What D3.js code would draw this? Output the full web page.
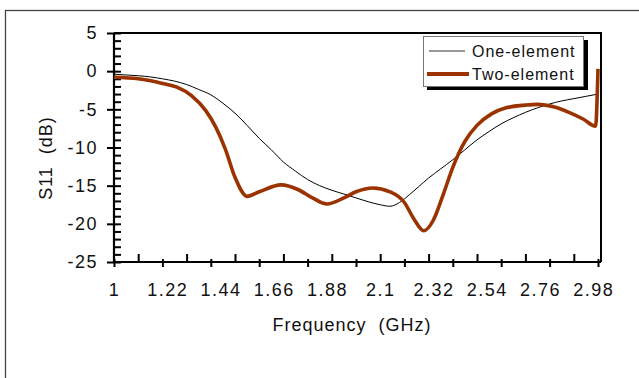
<!DOCTYPE html>
<html>
<head>
<meta charset="utf-8">
<script src="https://cdn.jsdelivr.net/npm/d3@7"></script>
<style>
    body { margin: 0; background: #fff; }
    text { font-family: "Liberation Sans", Arial, sans-serif; fill: #111; }
</style>
</head>
<body>
<svg id="chart" width="639" height="378"></svg>
<script>
// One-element antenna, S11 in dB
var freqOne = [1.00, 1.05, 1.10, 1.15, 1.20, 1.25, 1.30, 1.35, 1.40, 1.45, 1.50, 1.55, 1.60, 1.65, 1.70,
               1.75, 1.80, 1.85, 1.90, 1.95, 2.00, 2.05, 2.10, 2.14, 2.18, 2.22, 2.26, 2.30, 2.35, 2.40, 2.45,
               2.50, 2.55, 2.60, 2.65, 2.70, 2.75, 2.80, 2.85, 2.90, 2.95, 3.00];
var s11One = [-0.4, -0.5, -0.6, -0.75, -1.0, -1.3, -1.75, -2.4, -3.1, -4.2, -5.5, -7.1, -8.8, -10.3, -11.9,
              -13.1, -14.2, -15.0, -15.6, -16.1, -16.6, -17.1, -17.5, -17.7, -17.2, -16.2, -15.1, -14.0, -12.8, -11.6, -10.3,
              -9.0, -7.9, -6.9, -6.1, -5.4, -4.8, -4.3, -3.9, -3.6, -3.3, -3.0];

// Two-element antenna
var freqTwo = [1.00, 1.10, 1.20, 1.26, 1.32, 1.38, 1.42, 1.46, 1.50, 1.55, 1.60, 1.69, 1.76, 1.82, 1.88,
               1.95, 2.00, 2.07, 2.14, 2.20, 2.24, 2.28, 2.32, 2.36, 2.40, 2.45, 2.50, 2.56, 2.62, 2.70,
               2.75, 2.82, 2.88, 2.94, 2.99, 3.00];
var s11Two = [-0.8, -1.0, -1.6, -2.1, -3.2, -5.2, -7.3, -10.2, -13.9, -16.4, -15.8, -14.9, -15.5, -16.6, -17.4,
              -16.6, -15.8, -15.3, -15.8, -17.2, -19.4, -20.9, -19.5, -16.2, -12.6, -9.2, -7.1, -5.6, -4.8, -4.45,
              -4.35, -4.7, -5.4, -6.3, -7.2, 0.3];

var xLabels = [1, 1.22, 1.44, 1.66, 1.88, 2.1, 2.32, 2.54, 2.76, 2.98];
var yLabels = [5, 0, -5, -10, -15, -20, -25];
var seriesNames = ["One-element", "Two-element"];

var svg = d3.select("#chart");
var m = {left: 114, right: 598, top: 33, bottom: 262};
var brown = "#9a3300";

var x = d3.scaleLinear().domain([1, 3]).range([m.left, m.right]);
var y = d3.scaleLinear().domain([-25, 5]).range([m.bottom, m.top]);

// outer frame
svg.append("rect")
    .attr("x", 5.5).attr("y", 10.5)
    .attr("width", 700).attr("height", 400)
    .attr("fill", "none")
    .attr("stroke", "#444")
    .attr("stroke-width", 1.3);

// plot box (top + right)
svg.append("path")
    .attr("d", "M" + m.left + "," + m.top + "H601V" + m.bottom)
    .attr("fill", "none")
    .attr("stroke", "#000")
    .attr("stroke-width", 2);

// y axis: minor ticks inward, major ticks crossing
var yMinor = d3.range(-25, 6, 1);
svg.append("g")
    .attr("class", "axis")
    .attr("transform", "translate(" + m.left + ",0)")
    .call(d3.axisLeft(y).tickValues(yMinor).tickSize(-7).tickFormat(""));

svg.append("g")
    .attr("class", "axis ylab")
    .attr("transform", "translate(" + m.left + ",0)")
    .call(d3.axisLeft(y).tickValues(yLabels).tickSize(7).tickPadding(9)
        .tickFormat(function(d) { return String(d); }));

// x axis
var xMinor = d3.range(1.1, 3, 0.2);
var xMajor = d3.range(0, 11).map(function(i) { return 1 + i * 0.2; });

svg.append("g")
    .attr("class", "axis")
    .attr("transform", "translate(0," + m.bottom + ")")
    .call(d3.axisBottom(x).tickValues(xMinor).tickSize(-8).tickFormat(""));

svg.append("g")
    .attr("class", "axis")
    .attr("transform", "translate(0," + m.bottom + ")")
    .call(d3.axisBottom(x).tickValues(xMajor).tickSize(5).tickFormat(""));

svg.append("g")
    .attr("class", "axis")
    .attr("transform", "translate(0," + m.bottom + ")")
    .call(d3.axisBottom(x).tickValues(xMajor).tickSize(-3).tickFormat(""));

svg.append("g")
    .attr("class", "axis xlab")
    .attr("transform", "translate(0," + m.bottom + ")")
    .call(d3.axisBottom(x).tickValues(xLabels).tickSize(0).tickPadding(21)
        .tickFormat(function(d) { return String(d); }));

svg.selectAll(".axis path.domain").remove();
svg.selectAll(".axis line").attr("stroke", "#000").attr("stroke-width", 2);
svg.selectAll(".xlab line").remove();
svg.selectAll(".ylab text, .xlab text")
    .attr("fill", "#111")
    .style("font-size", "18px")
    .style("letter-spacing", "1.5px")
    .style("font-family", "'Liberation Sans', Arial, sans-serif");

// axis lines
svg.append("line")
    .attr("x1", m.left).attr("x2", m.left)
    .attr("y1", m.top).attr("y2", m.bottom + 1)
    .attr("stroke", "#000").attr("stroke-width", 2.2);
svg.append("line")
    .attr("x1", m.left - 1).attr("x2", 601)
    .attr("y1", m.bottom).attr("y2", m.bottom)
    .attr("stroke", "#000").attr("stroke-width", 2.2);

// curves
var line = d3.line()
    .curve(d3.curveMonotoneX)
    .x(function(d) { return x(d[0]); })
    .y(function(d) { return y(d[1]); });

svg.append("path")
    .datum(d3.zip(freqOne, s11One))
    .attr("d", line)
    .attr("fill", "none")
    .attr("stroke", "#000")
    .attr("stroke-width", 1);

svg.append("path")
    .datum(d3.zip(freqTwo, s11Two))
    .attr("d", line)
    .attr("fill", "none")
    .attr("stroke", brown)
    .attr("stroke-width", 3.6)
    .attr("stroke-linejoin", "round");

// axis titles
svg.append("text")
    .attr("transform", "translate(52,158) rotate(-90)")
    .attr("text-anchor", "middle")
    .style("font-size", "18px")
    .style("letter-spacing", "1px")
    .style("white-space", "pre")
    .text("S11  (dB)");

svg.append("text")
    .attr("x", 352).attr("y", 331)
    .attr("text-anchor", "middle")
    .style("font-size", "18px")
    .style("letter-spacing", "1px")
    .style("white-space", "pre")
    .text("Frequency  (GHz)");

// legend
var legend = svg.append("g").attr("transform", "translate(423,36)");
legend.append("rect")
    .attr("x", 4).attr("y", 4).attr("width", 161).attr("height", 50)
    .attr("fill", "#000");
legend.append("rect")
    .attr("x", 0.5).attr("y", 0.5).attr("width", 160).attr("height", 50)
    .attr("fill", "#fff").attr("stroke", "#777").attr("stroke-width", 1);

var rows = legend.selectAll("g.row")
    .data(seriesNames)
    .enter().append("g")
    .attr("class", "row")
    .attr("transform", function(d, i) { return "translate(0," + (15 + i * 23) + ")"; });

rows.append("line")
    .attr("x1", function(d, i) { return i ? 4 : 6; })
    .attr("x2", function(d, i) { return i ? 46 : 42; })
    .attr("stroke", function(d, i) { return i ? brown : "#333"; })
    .attr("stroke-width", function(d, i) { return i ? 4 : 1.2; });

rows.append("text")
    .attr("x", 49).attr("y", 6)
    .style("font-size", "16px")
    .style("letter-spacing", "1px")
    .text(function(d) { return d; });
</script>
</body>
</html>
